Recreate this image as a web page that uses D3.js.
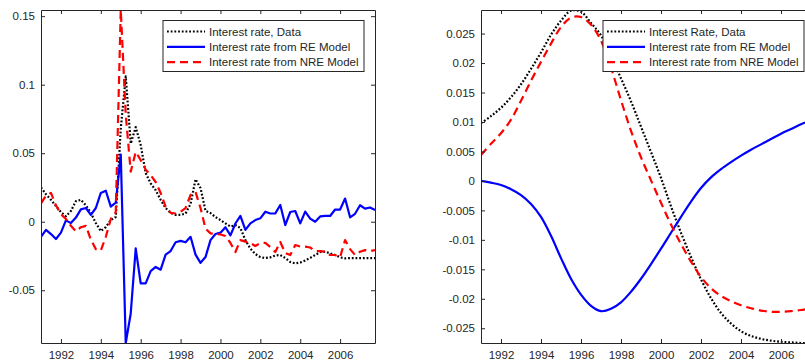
<!DOCTYPE html>
<html>
<head>
<meta charset="utf-8">
<script src="https://cdn.jsdelivr.net/npm/d3@7"></script>
<style>
  body { margin: 0; background: #fff; }
  svg { display: block; }
  text { font-family: "Liberation Sans", Arial, Helvetica, sans-serif; fill: #262626; }
</style>
</head>
<body>
<svg id="chart" width="805" height="362"></svg>
<script>
// ---------- Left panel: quarterly series, 1991Q1 – 2007Q4 ----------
const quarterDates = d3.range(68).map(i => 1991 + i / 4);

const rateData = [
  0.025, 0.020, 0.016, 0.0115, 0.007, 0.004, 0.0078, 0.015, 0.016, 0.012, 0.0064, -0.001, -0.0068, -0.0039, 0.0012, 0.0034,
  0.068, 0.106, 0.057, 0.069, 0.056, 0.0355, 0.028, 0.023, 0.016, 0.010, 0.0065, 0.005, 0.005, 0.006, 0.013, 0.031,
  0.0246, 0.008, 0.0063, 0.0034, 0.0012, -0.0012, -0.0035, -0.0024, -0.0046, -0.0134, -0.0196, -0.0236, -0.0258, -0.0265, -0.026, -0.0247,
  -0.0243, -0.0265, -0.0294, -0.0304, -0.0298, -0.0283, -0.0264, -0.0243, -0.0221, -0.0219, -0.0231, -0.0243, -0.026, -0.0267, -0.0265, -0.0265,
  -0.0265, -0.0265, -0.0265, -0.0265
];
const rateRE = [
  -0.011, -0.006, -0.009, -0.0126, -0.008, 0.001, -0.001, 0.003, 0.009, 0.010, 0.005, 0.010, 0.021, 0.0226, 0.011, 0.014,
  0.049, -0.0885, -0.067, -0.0195, -0.045, -0.045, -0.036, -0.033, -0.035, -0.024, -0.0214, -0.015, -0.014, -0.015, -0.011, -0.024,
  -0.030, -0.0258, -0.0134, -0.009, -0.008, -0.004, -0.010, -0.0013, 0.0042, -0.006, -0.0012, 0.0012, 0.0025, 0.0073, 0.006, 0.0061,
  0.0122, -0.0024, 0.0071, 0.0078, -0.0012, 0.0074, 0.0023, 0.0, 0.0039, 0.0042, 0.0042, 0.0089, 0.0089, 0.0169, 0.0032, 0.0058,
  0.012, 0.0096, 0.0104, 0.0085
];
const rateNRE = [
  0.0134, 0.019, 0.021, 0.012, 0.0055, 0.002, -0.003, -0.007, -0.004, -0.003, -0.013, -0.020, -0.021, -0.011, 0.002, 0.007,
  0.1545, 0.078, 0.0365, 0.051, 0.045, 0.038, 0.034, 0.029, 0.021, 0.011, 0.0065, 0.006, 0.0073, 0.010, 0.0195, 0.0217,
  0.010, -0.005, -0.0085, -0.009, -0.0093, -0.0104, -0.0155, -0.0221, -0.0134, -0.0145, -0.0155, -0.0177, -0.0155, -0.0155, -0.0185, -0.0221,
  -0.0148, -0.0228, -0.0243, -0.017, -0.0181, -0.0182, -0.0188, -0.0214, -0.0214, -0.0219, -0.0243, -0.0243, -0.0258, -0.0134, -0.020, -0.0243,
  -0.0219, -0.0207, -0.0214, -0.0207
];

// ---------- Right panel: smoothed trends, sampled every half year ----------
const halfYearDates = [
  1991, 1991.5, 1992, 1992.5, 1993, 1993.5, 1994, 1994.5, 1995, 1995.5, 1996, 1996.5,
  1997, 1997.5, 1998, 1998.5, 1999, 1999.5, 2000, 2000.5, 2001, 2001.5, 2002, 2002.5,
  2003, 2003.5, 2004, 2004.5, 2005, 2005.5, 2006, 2006.5, 2007, 2007.5, 2007.75
];
const trendData = [
  0.0098, 0.0110, 0.0124, 0.0142, 0.0164, 0.0190, 0.0218, 0.0248, 0.0272, 0.0289, 0.0287, 0.0268,
  0.0247, 0.0211, 0.0174, 0.0135, 0.0092, 0.0049, 0.0005, -0.0043, -0.0088, -0.0129, -0.0167, -0.0199,
  -0.0224, -0.0242, -0.0255, -0.0263, -0.0268, -0.0271, -0.0273, -0.0274, -0.0275, -0.0275, -0.0275
];
const trendRE = [
  0.0, -0.0003, -0.0007, -0.0014, -0.0024, -0.0039, -0.0061, -0.0093, -0.0131, -0.0166, -0.0193, -0.0212,
  -0.0221, -0.0217, -0.0206, -0.0188, -0.0166, -0.0141, -0.0115, -0.0088, -0.0061, -0.0035, -0.0012, 0.0006,
  0.0020, 0.0032, 0.0043, 0.0053, 0.0062, 0.0071, 0.0080, 0.0088, 0.0096, 0.0103, 0.0107
];
const trendNRE = [
  0.0044, 0.0063, 0.0081, 0.0104, 0.0136, 0.0170, 0.0202, 0.0233, 0.0261, 0.0277, 0.0278, 0.0265,
  0.0238, 0.0192, 0.0137, 0.0085, 0.0040, 0.0001, -0.0037, -0.0074, -0.0107, -0.0137, -0.0163, -0.0182,
  -0.0195, -0.0204, -0.0211, -0.0216, -0.0220, -0.0222, -0.0222, -0.0221, -0.0219, -0.0216, -0.0216
];

const yearTicks = [1992, 1994, 1996, 1998, 2000, 2002, 2004, 2006];
const leftYTicks = [-0.05, 0, 0.05, 0.1, 0.15];
const rightYTicks = [-0.025, -0.02, -0.015, -0.01, -0.005, 0, 0.005, 0.01, 0.015, 0.02, 0.025];

const leftLabels = ["Interest rate, Data", "Interest rate from RE Model", "Interest rate from NRE Model"];
const rightLabels = ["Interest Rate, Data", "Interest rate from RE Model", "Interest rate from NRE Model"];

// ---------- Drawing ----------
const svg = d3.select("#chart");
svg.append("rect").attr("width", 805).attr("height", 362).attr("fill", "#fff");

const styles = [
  { stroke: "#000000", width: 2.2, dash: "1.8,1.9" },
  { stroke: "#0000ff", width: 2.2, dash: null },
  { stroke: "#ff0000", width: 2.2, dash: "8,5" }
];
const axisColor = "#262626";
const fontSize = 11.5;
const tickLen = 4;
const fmt = v => String(+v.toFixed(4));

function drawPanel(p) {
  const x = d3.scaleLinear().domain([1991, 2007.75]).range([p.left, p.right]);
  const y = d3.scaleLinear().domain(p.yDomain).range([p.bottom, p.top]);
  const g = svg.append("g");

  const clipId = "clip" + p.id;
  g.append("clipPath").attr("id", clipId)
    .append("rect").attr("x", p.left).attr("y", p.top)
    .attr("width", p.right - p.left).attr("height", p.bottom - p.top);

  // lines
  const lines = g.append("g").attr("clip-path", `url(#${clipId})`);
  p.series.forEach((vals, k) => {
    const line = d3.line()
      .x((d, i) => x(p.dates[i]))
      .y(d => y(d))
      .curve(p.curve);
    const st = styles[k];
    lines.append("path")
      .datum(vals)
      .attr("d", line)
      .attr("fill", "none")
      .attr("stroke", st.stroke)
      .attr("stroke-width", st.width)
      .attr("stroke-dasharray", st.dash)
      .attr("stroke-linejoin", "round");
  });

  // axes (box with inward ticks on all sides)
  const bottomAxis = d3.axisBottom(x).tickValues(yearTicks).tickSizeInner(-tickLen).tickSizeOuter(0).tickPadding(8).tickFormat(d3.format("d"));
  const topAxis = d3.axisTop(x).tickValues(yearTicks).tickSizeInner(-tickLen).tickSizeOuter(0).tickFormat("");
  const leftAxis = d3.axisLeft(y).tickValues(p.yTicks).tickSizeInner(-tickLen).tickSizeOuter(0).tickPadding(6).tickFormat(fmt);
  const rightAxis = d3.axisRight(y).tickValues(p.yTicks).tickSizeInner(-tickLen).tickSizeOuter(0).tickFormat("");

  const ax = [
    g.append("g").attr("transform", `translate(0,${p.bottom})`).call(bottomAxis),
    g.append("g").attr("transform", `translate(0,${p.top})`).call(topAxis),
    g.append("g").attr("transform", `translate(${p.left},0)`).call(leftAxis),
    g.append("g").attr("transform", `translate(${p.right},0)`).call(rightAxis)
  ];
  ax.forEach(a => {
    a.select(".domain").attr("stroke", axisColor).attr("stroke-width", 1);
    a.selectAll(".tick line").attr("stroke", axisColor).attr("stroke-width", 1);
    a.selectAll(".tick text").attr("fill", axisColor).style("font-size", fontSize + "px")
      .style("font-family", '"Liberation Sans", Arial, sans-serif');
  });

  // legend
  const L = p.legend;
  const lg = g.append("g");
  lg.append("rect").attr("x", L.x).attr("y", L.y).attr("width", L.w).attr("height", L.h)
    .attr("fill", "#fff").attr("stroke", axisColor).attr("stroke-width", 1);
  p.labels.forEach((lab, k) => {
    const cy = L.y + 11 + k * 15.3;
    const st = styles[k];
    lg.append("line")
      .attr("x1", L.x + 4).attr("x2", L.x + 42)
      .attr("y1", cy).attr("y2", cy)
      .attr("stroke", st.stroke).attr("stroke-width", st.width)
      .attr("stroke-dasharray", st.dash);
    lg.append("text")
      .attr("x", L.x + 46).attr("y", cy + 4)
      .style("font-size", fontSize + "px")
      .text(lab);
  });
}

drawPanel({
  id: "L", left: 41, right: 375, top: 10, bottom: 343,
  yDomain: [-0.0885, 0.1545], yTicks: leftYTicks,
  dates: quarterDates, series: [rateData, rateRE, rateNRE],
  curve: d3.curveLinear,
  labels: leftLabels,
  legend: { x: 163, y: 20.5, w: 201, h: 51 }
});

drawPanel({
  id: "R", left: 481, right: 816, top: 10, bottom: 343,
  yDomain: [-0.0275, 0.0290], yTicks: rightYTicks,
  dates: halfYearDates, series: [trendData, trendRE, trendNRE],
  curve: d3.curveCatmullRom.alpha(0.5),
  labels: rightLabels,
  legend: { x: 603, y: 20.5, w: 201, h: 51 }
});
</script>
</body>
</html>
